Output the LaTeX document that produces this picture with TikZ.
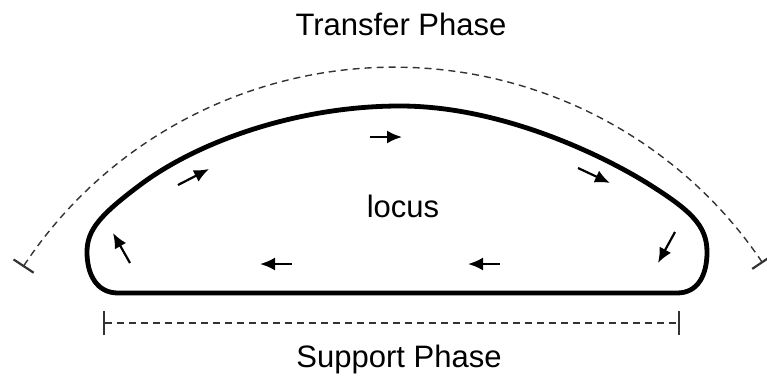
\documentclass[tikz,border=0pt]{standalone}
\usepackage{fontspec}
\setmainfont{Liberation Sans}
\usetikzlibrary{arrows.meta}

\begin{document}
\begin{tikzpicture}[x=1pt,y=-1pt,
    phase text/.style={font=\fontsize{31}{36}\selectfont,anchor=base,inner sep=0pt},
    locus line/.style={line width=4.8pt,line join=round},
    flow arrow/.style={-{Latex[length=15pt,width=13pt]},line width=2.2pt},
    phase line/.style={{Bar[width=24pt,line width=2.2pt]}-{Bar[width=24pt,line width=2.2pt]},line width=1.4pt,dash pattern=on 7pt off 5pt,black!80}]
    \useasboundingbox (0,0) rectangle (767,375);

    \node[phase text] (transfer) at (401,35) {Transfer Phase};
    \node[phase text] (support) at (399,367) {Support Phase};
    \node[phase text] (locus) at (403,217) {locus};

    % outline of the locus
    \draw[locus line] (118,293) -- (677,293)
        .. controls (698,293) and (707,275) .. (707,252)
        .. controls (707,225) and (690,210) .. (647,183)
        .. controls (600,154) and (500,106) .. (400,106)
        .. controls (300,106) and (200,140) .. (140,185)
        .. controls (100,215) and (87,230) .. (87,252)
        .. controls (87,275) and (97,293) .. (118,293) -- cycle;

    % direction of travel
    \draw[flow arrow] (370,137) -- (402,137);
    \draw[flow arrow] (578,168) -- (610,183);
    \draw[flow arrow] (675,232) -- (658,263);
    \draw[flow arrow] (500,264) -- (468,264);
    \draw[flow arrow] (292,264) -- (260,264);
    \draw[flow arrow] (130,263) -- (113,233);
    \draw[flow arrow] (178,185) -- (209,169);

    % phases
    \coordinate (swing start) at (23,267);
    \coordinate (stance start) at (103,323);
    \coordinate (stance end) at (680,323);
    \draw[phase line] (swing start) arc[start angle=-146.6,end angle=-34,radius=444.6];
    \draw[phase line] (stance start) -- (stance end);
\end{tikzpicture}
\end{document}
